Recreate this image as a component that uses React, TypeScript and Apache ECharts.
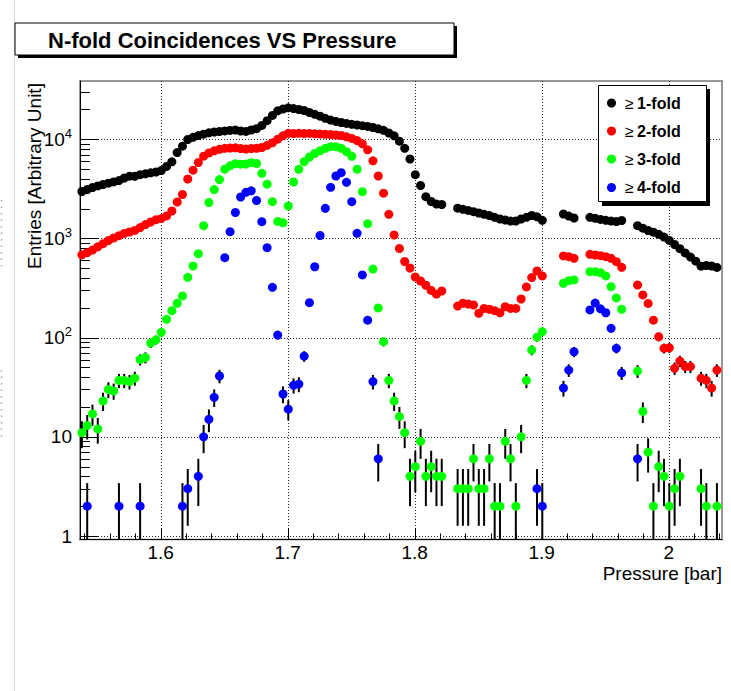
import React, { useEffect, useRef } from "react";
import * as echarts from "echarts";

const FONT = "'Liberation Sans', Arial, Helvetica, sans-serif";

// Axis ranges
const X_MIN = 1.5365;
const X_MAX = 2.042;
const Y_MIN = 0.922;
const Y_MAX = 38600;

// Pressure bins: first bin centre and bin width (bar)
const P_START = 1.538;
const P_STEP = 1 / 240;

const n = null;

// >= 1-fold
const BLACK: (number | null)[] = [
  2970, 3112, 3260, 3382, 3495, 3602, 3712, 3825, 4064, 4236,
  4227, 4387, 4480, 4585, 4671, 4836, 5319, 5920, 7327, 8500,
  9931, 10452, 10872, 11229, 11600, 11817, 11953, 12124, 12264, 12349,
  12096, 11981, 12378, 12757, 13775, 15366, 17378, 19333, 20159, 20728,
  20350, 19926, 19467, 18589, 17825, 17060, 16241, 15580, 15116, 14734,
  14432, 14132, 13903, 13680, 13459, 13120, 12728, 12292, 11548, 10822,
  9545, 8096, 6316, 4387, 3413, 2633, 2355, 2217, 2196, n,
  n, 2016, 1965, 1915, 1858, 1803, 1750, 1697, 1632, 1569,
  1533, 1494, 1497, 1569, 1632, 1701, 1651, 1522, n, n,
  n, 1762, 1678, 1606, n, n, 1632, 1594, 1554, 1522,
  1494, 1480, 1515, n, n, 1343, 1267, 1201, 1155, 1100,
  1031, 954, 868, 787, 714, 648, 589, 525, 533, 527,
  510,
];

// >= 2-fold
const RED: (number | null)[] = [
  683, 717, 762, 823, 884, 950, 1009, 1065, 1121, 1160,
  1204, 1285, 1378, 1463, 1543, 1583, 1686, 1889, 2328, 2771,
  3970, 4870, 5824, 6739, 7276, 7641, 7912, 8096, 8153, 8191,
  8059, 7966, 8059, 8096, 8248, 8679, 9200, 10000, 10822, 11468,
  11413, 11468, 11387, 11440, 11334, 11282, 11203, 11152, 11023, 10897,
  10573, 10188, 9681, 8987, 7821, 6058, 4256, 2855, 1750, 1082,
  791, 585, 503, 408, 372, 337, 299, 274, 295, n,
  n, 208, 222, 218, 213, 176, 197, 193, 187, 178,
  205, 197, 197, 245, 324, 403, 469, 418, n, n,
  n, 665, 654, 630, n, n, 691, 680, 669, 654,
  630, 582, 511, n, n, 339, 269, 221, 150, 102,
  78, 79, 49, 58, 51, 51, n, 39, 37, 31,
  47,
];

// >= 3-fold
const GREEN: (number | null)[] = [
  11, 13, 17, 12, 23, 30, 29, 37, 37, 36,
  39, 60, 63, 88, 95, 113, 153, 187, 222, 263,
  405, 527, 701, 1343, 2301, 3104, 3915, 4984, 5395, 5662,
  5600, 5623, 5796, 5689, 4531, 3519, 2344, 1484, 1437, 2122,
  3703, 4973, 5933, 6616, 7176, 7641, 8096, 8403, 8403, 8096,
  7482, 6723, 4984, 2956, 1407, 491, 199, 91, 37, 23,
  16, 11, 4, 5, 9, 4, 5, 4, 4, n,
  n, 3, 3, 3, 6, 3, 3, 6, 2, 2,
  9, 6, 2, 10, 37, 75, 101, 115, n, n,
  n, 353, 375, 381, n, n, 462, 462, 451, 418,
  326, 251, 193, n, n, 46, 18, 7, 2, 5,
  4, 2, 3, 4, n, n, n, 3, 2, n,
  2,
];

// >= 4-fold
const BLUE: (number | null)[] = [
  n, 2, n, n, n, n, n, 2, n, n,
  n, 2, n, n, n, n, n, n, n, 2,
  3, n, 4, 10, 15, 25, 41, 639, 1168, 1824,
  2615, 2915, 3019, 2411, 1474, 806, 321, 106, 27, 19,
  33, 34, 65, 225, 518, 1070, 2011, 3274, 4256, 4596,
  3678, 2344, 1126, 428, 150, 36, 6, n, n, n,
  n, n, n, n, n, n, n, n, n, n,
  n, n, n, n, n, n, n, n, n, n,
  n, n, n, n, n, n, 3, 2, n, n,
  n, 31, 47, 72, n, n, 190, 223, 195, 178,
  124, 78, 44, n, n, 6, n, n, n, n,
  n, n, n, n, n, n, n, n, n, n,
  n,
];

const SERIES = [
  { name: "≥ 1-fold", label: "1-fold", color: "#000000", values: BLACK },
  { name: "≥ 2-fold", label: "2-fold", color: "#ff0000", values: RED },
  { name: "≥ 3-fold", label: "3-fold", color: "#00ff00", values: GREEN },
  { name: "≥ 4-fold", label: "4-fold", color: "#0000ff", values: BLUE },
];

// Axis ticks
const X_MAJOR = [1.6, 1.7, 1.8, 1.9, 2.0];
const X_MINOR = [1.54, 1.56, 1.58, 1.62, 1.64, 1.66, 1.68, 1.72, 1.74, 1.76, 1.78, 1.82, 1.84, 1.86, 1.88, 1.92, 1.94, 1.96, 1.98, 2.02, 2.04];
const Y_MAJOR = [1, 10, 100, 1000, 10000];
const Y_MINOR_MULT = [2, 3, 4, 5, 6, 7, 8, 9];

const TITLE = "N-fold Coincidences VS Pressure";
const X_TITLE = "Pressure [bar]";
const Y_TITLE = "Entries [Arbitrary Unit]";

function toPoints(vals: (number | null)[]) {
  const out: number[][] = [];
  vals.forEach((v, i) => {
    if (v != null && v > 0) out.push([+(P_START + i * P_STEP).toFixed(6), v]);
  });
  return out;
}

export default function App() {
  const ref = useRef<HTMLDivElement>(null);

  useEffect(() => {
    document.body.style.margin = "0";
    const el = ref.current;
    if (!el) return;
    const chart = echarts.init(el, undefined, { renderer: "svg" });

    const decor: number[][] = [];
    X_MAJOR.forEach((v) => decor.push([v, 10, 0]));
    X_MINOR.forEach((v) => decor.push([v, 10, 1]));
    Y_MAJOR.forEach((v) => decor.push([1.7, v, 2]));
    Y_MAJOR.forEach((d) =>
      Y_MINOR_MULT.forEach((m) => {
        const v = d * m;
        if (v < Y_MAX) decor.push([1.7, v, 3]);
      })
    );

    const decorRender = (params: any, api: any) => {
      const kind = api.value(2);
      const cs = params.coordSys;
      const L = cs.x, R = cs.x + cs.width, T = cs.y, B = cs.y + cs.height;
      const gridStyle = { stroke: "#222", lineWidth: 1, lineDash: [1, 2] };
      const tickStyle = { stroke: "#000", lineWidth: 1 };
      const children: any[] = [];
      if (kind === 0 || kind === 1) {
        const x = Math.round(api.coord([api.value(0), 10])[0]) + 0.5;
        if (kind === 0) children.push({ type: "line", shape: { x1: x, y1: T, x2: x, y2: B }, style: gridStyle });
        const len = kind === 0 ? 11 : 6;
        children.push({ type: "line", shape: { x1: x, y1: B, x2: x, y2: B - len }, style: tickStyle });
      } else {
        const y = Math.round(api.coord([1.7, api.value(1)])[1]) + 0.5;
        if (kind === 2) children.push({ type: "line", shape: { x1: L, y1: y, x2: R, y2: y }, style: gridStyle });
        const len = kind === 2 ? 18 : 10;
        children.push({ type: "line", shape: { x1: L, y1: y, x2: L + len, y2: y }, style: tickStyle });
      }
      return { type: "group", children };
    };

    const errRender = (params: any, api: any) => {
      const x = api.value(0);
      const y = api.value(1);
      const e = Math.sqrt(y);
      const cs = params.coordSys;
      const T = cs.y, B = cs.y + cs.height;
      const pHi = api.coord([x, y + e]);
      const lo = y - e;
      let y2 = lo > 0 ? api.coord([x, lo])[1] : B;
      if (y2 > B) y2 = B;
      const y1 = Math.max(pHi[1], T);
      return {
        type: "line",
        shape: { x1: pHi[0], y1, x2: pHi[0], y2 },
        style: { stroke: "#000", lineWidth: 2 },
      };
    };

    const yFmt = (v: number) => {
      const lg = Math.log10(v);
      const e = Math.round(lg);
      if (Math.abs(lg - e) > 1e-6) return "";
      if (e === 0) return "{b|1}";
      if (e === 1) return "{b|10}";
      return "{b|10}{s|" + e + "}";
    };

    const series: any[] = [
      {
        type: "custom",
        name: "decor",
        coordinateSystem: "cartesian2d",
        renderItem: decorRender,
        data: decor,
        silent: true,
        clip: false,
        z: 1,
      },
    ];
    SERIES.forEach((s) => {
      series.push({
        type: "custom",
        name: s.name + " err",
        coordinateSystem: "cartesian2d",
        renderItem: errRender,
        data: toPoints(s.values),
        silent: true,
        clip: false,
        z: 2,
      });
    });
    SERIES.forEach((s) => {
      series.push({
        type: "scatter",
        name: s.name,
        data: toPoints(s.values),
        symbol: "circle",
        symbolSize: 9,
        itemStyle: { color: s.color, opacity: 1 },
        silent: true,
        z: 3,
      });
    });

    const legendRows = [103, 131, 159, 187.5];

    const graphic: any[] = [
      { type: "line", shape: { x1: 14.5, y1: 0, x2: 14.5, y2: 691 }, style: { stroke: "#d6d6d6", lineWidth: 1 }, silent: true },
      { type: "line", shape: { x1: 1.5, y1: 200, x2: 1.5, y2: 267 }, style: { stroke: "#aaa", lineWidth: 1.5, lineDash: [1.5, 5] }, silent: true },
      { type: "line", shape: { x1: 1.5, y1: 370, x2: 1.5, y2: 440 }, style: { stroke: "#aaa", lineWidth: 1.5, lineDash: [1.5, 5] }, silent: true },
      // title box
      { type: "rect", shape: { x: 18, y: 26, width: 439, height: 32 }, style: { fill: "#000" }, silent: true },
      { type: "rect", shape: { x: 15, y: 23, width: 439, height: 32 }, style: { fill: "#fff", stroke: "#000", lineWidth: 1 }, silent: true },
      {
        type: "text", x: 48, y: 40, silent: true,
        style: { text: TITLE, fontSize: 22, fontWeight: "bold", fontFamily: FONT, fill: "#000", align: "left", verticalAlign: "middle" },
      },
      // legend box
      { type: "rect", shape: { x: 602, y: 89, width: 108, height: 117 }, style: { fill: "#000" }, silent: true, z: 10 },
      { type: "rect", shape: { x: 598.5, y: 85.5, width: 108, height: 116 }, style: { fill: "#fff", stroke: "#000", lineWidth: 1 }, silent: true, z: 10 },
      // axis titles
      {
        type: "text", x: 722, y: 573, silent: true,
        style: { text: X_TITLE, fontSize: 19, fontFamily: FONT, fill: "#000", align: "right", verticalAlign: "middle" },
      },
      {
        type: "text", x: 34, y: 176, rotation: Math.PI / 2, silent: true,
        style: { text: Y_TITLE, fontSize: 19, fontFamily: FONT, fill: "#000", align: "center", verticalAlign: "middle" },
      },
    ];
    SERIES.forEach((s, i) => {
      graphic.push({
        type: "circle", shape: { cx: 611.5, cy: legendRows[i], r: 4.5 }, style: { fill: s.color }, silent: true, z: 11,
      });
      graphic.push({
        type: "text", x: 625, y: legendRows[i], silent: true, z: 11,
        style: {
          text: "{a|≥} {b|" + s.label + "}",
          fill: "#000",
          align: "left",
          verticalAlign: "middle",
          rich: {
            a: { fontSize: 16, fontFamily: FONT, fill: "#000", fontWeight: "normal" },
            b: { fontSize: 16, fontFamily: FONT, fill: "#000", fontWeight: "bold" },
          },
        },
      });
    });

    chart.setOption({
      animation: false,
      backgroundColor: "#ffffff",
      grid: {
        left: 80, top: 81, right: 9, bottom: 151.5,
        show: true, borderColor: "#777", borderWidth: 1.5, backgroundColor: "transparent",
        containLabel: false, outerBoundsMode: "none",
      },
      xAxis: {
        type: "value",
        min: X_MIN,
        max: X_MAX,
        axisLine: { show: true, onZero: false, lineStyle: { color: "#000", width: 1 } },
        axisTick: { show: false },
        splitLine: { show: false },
        axisLabel: {
          customValues: X_MAJOR,
          formatter: (v: number) => String(Math.round(v * 10) / 10),
          fontSize: 19,
          fontFamily: FONT,
          color: "#000",
          margin: 3,
        },
      },
      yAxis: {
        type: "log",
        logBase: 10,
        min: Y_MIN,
        max: Y_MAX,
        axisLine: { show: true, lineStyle: { color: "#000", width: 1 } },
        axisTick: { show: false },
        splitLine: { show: false },
        minorTick: { show: false },
        axisLabel: {
          formatter: yFmt,
          margin: 8,
          color: "#000",
          rich: {
            b: { fontSize: 19, fontFamily: FONT, color: "#000", lineHeight: 19, verticalAlign: "middle" },
            s: { fontSize: 13, fontFamily: FONT, color: "#000", lineHeight: 13, padding: [0, 0, 12, 0], verticalAlign: "middle" },
          },
        },
      },
      series,
      graphic,
    });

    return () => {
      chart.dispose();
    };
  }, []);

  return <div ref={ref} style={{ width: 731, height: 691 }} />;
}
